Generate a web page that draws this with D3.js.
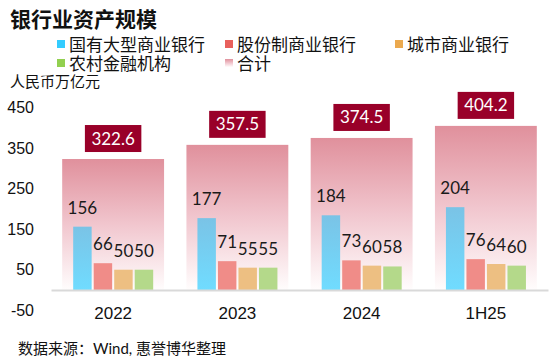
<!DOCTYPE html>
<html><head><meta charset="utf-8">
<script src="https://cdn.jsdelivr.net/npm/d3@7"></script>
<style>
html,body{margin:0;padding:0;background:#fff;}
svg{display:block;font-family:Lato,"Noto Sans CJK SC",sans-serif;}
</style></head>
<body><svg id="c" width="553" height="359"></svg>
<script>
const categories = ["2022","2023","2024","1H25"];
const seriesNames = ["国有大型商业银行","股份制商业银行","城市商业银行","农村金融机构"];
const bigState = [156,177,184,204];
const jointStock = [66,71,73,76];
const cityComm = [50,55,60,64];
const rural = [50,55,58,60];
const totals = [322.6,357.5,374.5,404.2];
const yTicks = [-50,50,150,250,350,450];
const totalName = "合计";
const title = "银行业资产规模";
const unit = "人民币万亿元";
const source = "数据来源：Wind, 惠誉博华整理";

const seriesValues = [bigState, jointStock, cityComm, rural];
const legendColors = ["#33ccff","#e8605c","#eba94e","#92d050"];
const barColors = ["url(#gBlue)","#f08c88","#edbf82","#b4d98a"];

const svg = d3.select("#c");
const defs = svg.append("defs");
const gp = defs.append("linearGradient").attr("id","gPink").attr("x1",0).attr("y1",0).attr("x2",0).attr("y2",1);
gp.append("stop").attr("offset","0%").attr("stop-color","#e0909c");
gp.append("stop").attr("offset","50%").attr("stop-color","#f1c6ce");
gp.append("stop").attr("offset","100%").attr("stop-color","#fffdfd");
const gb = defs.append("linearGradient").attr("id","gBlue").attr("x1",0).attr("y1",0).attr("x2",0).attr("y2",1);
gb.append("stop").attr("offset","0%").attr("stop-color","#7ac3e6");
gb.append("stop").attr("offset","100%").attr("stop-color","#70dcff");

const x = d3.scaleBand().domain(categories).range([51,548]).paddingInner(0.18).paddingOuter(0.09);
const xs = d3.scaleBand().domain(seriesNames).range([11,91]).paddingInner(0.1);
const y = d3.scaleLinear().domain([-50,450]).range([310.3,107.3]);

// title
svg.append("text").attr("x",10).attr("y",27).attr("font-size",21).attr("font-weight","bold")
  .attr("fill","#111").text(title);

// legend
const legendItems = seriesNames.map((n,i)=>({name:n,fill:legendColors[i]})).concat([{name:totalName,fill:"url(#gPink)"}]);
const legendPos = [[57,40],[225,40],[395,40],[57,59],[225,59]];
legendItems.forEach((d,i)=>{
  const [lx,ly] = legendPos[i];
  svg.append("rect").attr("x",lx).attr("y",ly).attr("width",8).attr("height",8).attr("fill",d.fill);
  svg.append("text").attr("x",lx+12).attr("y",ly+11).attr("font-size",17).attr("fill","#111").text(d.name);
});

svg.append("text").attr("x",10).attr("y",87).attr("font-size",15).attr("fill","#111").text(unit);

// total bars
svg.append("g").selectAll("rect").data(categories).join("rect")
  .attr("x",d=>x(d)).attr("width",x.bandwidth())
  .attr("y",(d,i)=>y(totals[i])).attr("height",(d,i)=>y(0)-y(totals[i]))
  .attr("fill","url(#gPink)");

// series bars
seriesValues.forEach((vals,si)=>{
  const g = svg.append("g");
  g.selectAll("rect").data(categories).join("rect")
    .attr("x",d=>x(d)+xs(seriesNames[si])).attr("width",xs.bandwidth())
    .attr("y",(d,i)=>y(vals[i])).attr("height",(d,i)=>y(0)-y(vals[i]))
    .attr("fill",barColors[si]);
  g.selectAll("text").data(categories).join("text")
    .attr("x",d=>x(d)+xs(seriesNames[si])+xs.bandwidth()/2)
    .attr("y",(d,i)=>y(vals[i])-13)
    .attr("text-anchor","middle").attr("font-size",17).attr("fill","#1a1a1a")
    .text((d,i)=>vals[i]);
});

// total labels
categories.forEach((c,i)=>{
  const g = svg.append("g");
  const cx = x(c)+x.bandwidth()/2;
  const bottom = y(totals[i])-7;
  const r = g.append("rect").attr("fill","#990029");
  const t = g.append("text").attr("x",cx).attr("y",bottom-7.5).attr("text-anchor","middle")
    .attr("font-size",17).attr("fill","#fff").text(totals[i].toFixed(1));
  const w = t.node().getComputedTextLength()+13;
  r.attr("x",cx-w/2).attr("y",bottom-27).attr("width",w).attr("height",27);
});

// axes
const xa = svg.append("g").attr("transform",`translate(0,${y(0)})`)
  .call(d3.axisBottom(x).tickSize(0).tickPadding(17));
xa.select(".domain").attr("stroke","#d9d9d9").attr("stroke-width",2);
xa.selectAll("text").attr("font-size",17).attr("fill","#111").attr("font-family",null);

const ya = svg.append("g").attr("transform","translate(40,0)")
  .call(d3.axisLeft(y).tickValues(yTicks).tickFormat(d=>String(d)).tickSize(0).tickPadding(6));
ya.select(".domain").remove();
ya.selectAll("text").attr("font-size",16).attr("fill","#111").attr("font-family",null);

svg.append("text").attr("x",18).attr("y",354).attr("font-size",15).attr("fill","#111").text(source);
</script></body></html>
